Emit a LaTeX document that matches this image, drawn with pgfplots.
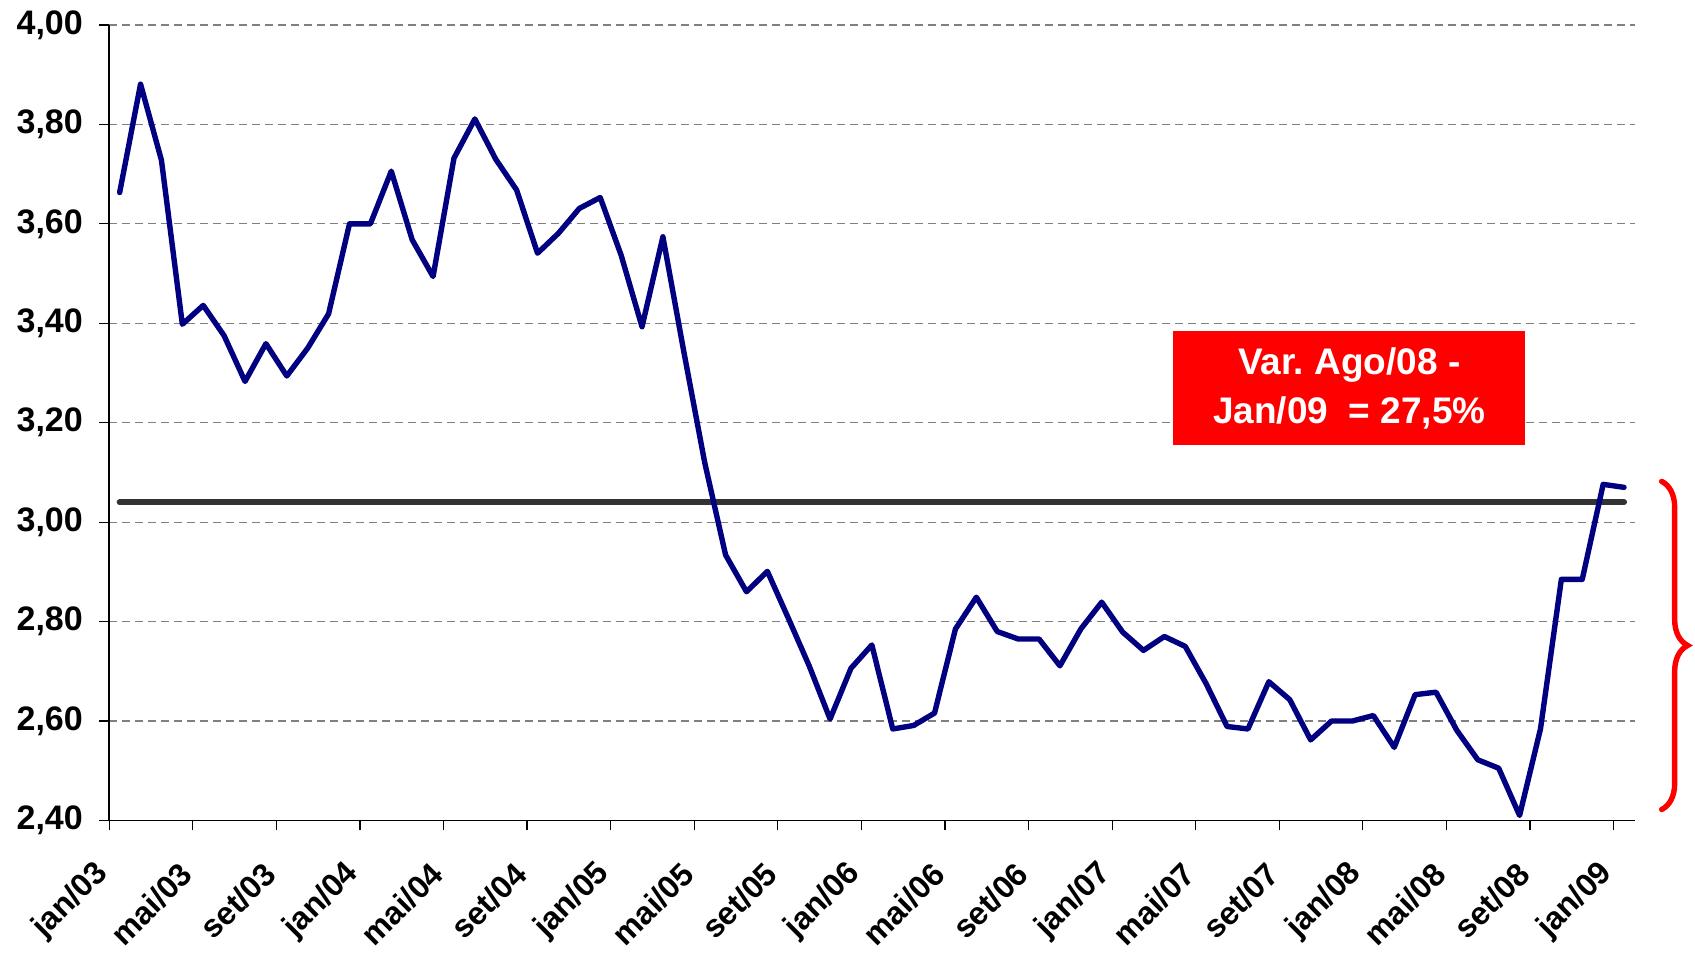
\documentclass[border=0pt]{standalone}
\usepackage{pgfplots}
\pgfplotsset{compat=1.18}
\usepackage{pgfplotstable}
\usepackage{fontspec}
\setmainfont{Liberation Sans}
\usetikzlibrary{decorations.pathreplacing}

\definecolor{serie}{HTML}{000080}
\definecolor{media}{HTML}{333333}
\definecolor{grade}{HTML}{808080}

% indice do mes (0 = jan/03 ... 72 = jan/09) e valor
\pgfplotstableread{
i v
0 3.663
1 3.881
2 3.728
3 3.398
4 3.436
5 3.375
6 3.283
7 3.359
8 3.294
9 3.350
10 3.419
11 3.600
12 3.600
13 3.706
14 3.568
15 3.494
16 3.732
17 3.811
18 3.730
19 3.668
20 3.541
21 3.581
22 3.631
23 3.653
24 3.537
25 3.393
26 3.574
27 3.343
28 3.120
29 2.934
30 2.860
31 2.901
32 2.807
33 2.711
34 2.604
35 2.706
36 2.753
37 2.584
38 2.591
39 2.616
40 2.785
41 2.849
42 2.780
43 2.765
44 2.765
45 2.711
46 2.785
47 2.839
48 2.779
49 2.742
50 2.770
51 2.750
52 2.675
53 2.589
54 2.584
55 2.679
56 2.643
57 2.562
58 2.600
59 2.600
60 2.611
61 2.547
62 2.653
63 2.658
64 2.581
65 2.522
66 2.505
67 2.410
68 2.584
69 2.885
70 2.885
71 3.076
72 3.070
}\dados

\begin{document}
\begin{tikzpicture}
\begin{axis}[
    name=ax,
    scale only axis,
    width=762.6pt, height=397.7pt,
    xmin=-0.5, xmax=72.5,
    ymin=2.4, ymax=4.0,
    axis x line*=bottom, axis y line*=left,
    axis line style={-, line width=0.75pt},
    % marcas nos limites das categorias
    xtick={-0.5,3.5,...,71.5},
    xticklabels={jan/03,mai/03,set/03,jan/04,mai/04,set/04,jan/05,mai/05,set/05,
        jan/06,mai/06,set/06,jan/07,mai/07,set/07,jan/08,mai/08,set/08,jan/09},
    ytick={2.4,2.6,2.8,3.0,3.2,3.4,3.6,3.8,4.0},
    tick align=outside,
    major tick length=5pt,
    tick style={black, line width=0.6pt},
    ymajorgrids,
    major grid style={grade, dash pattern=on 4pt off 2.5pt, line width=0.6pt},
    /pgf/number format/fixed,
    /pgf/number format/fixed zerofill,
    /pgf/number format/precision=2,
    /pgf/number format/use comma,
    /pgf/number format/assume math mode=true,
    yticklabel style={font=\fontsize{17}{20}\selectfont\bfseries, inner sep=0pt, anchor=east, xshift=-8pt},
    xticklabel style={font=\fontsize{16}{19}\selectfont\bfseries, inner sep=0pt,
        xshift=-3pt, yshift=-19pt, rotate=45, anchor=east},
    clip=false,
]
    % media do periodo
    \addplot[media, line width=3pt, line cap=round] coordinates {(0,3.04) (72,3.04)};

    % serie mensal
    \addplot[serie, line width=2.7pt, line join=round, line cap=round] table[x=i, y=v] {\dados};

    % caixa de variacao
    \node[fill=red, text=white, font=\fontsize{18.5}{24.3}\selectfont\bfseries,
        align=center, minimum width=176pt, minimum height=57pt, inner sep=0pt]
        at (axis cs:58.85,3.269) {Var.\ Ago/08 -\\Jan/09\ \ = 27,5\%};

    % chave vermelha
    \draw[red, line width=2.7pt, line cap=round, decorate, decoration={brace, amplitude=13pt}]
        (axis cs:73.8,3.082) -- (axis cs:73.8,2.422);
\end{axis}
\pgfresetboundingbox
\path ([xshift=-54.6pt, yshift=-67.25pt]ax.south west) rectangle ([xshift=30.25pt, yshift=12.5pt]ax.north east);
\end{tikzpicture}
\end{document}
